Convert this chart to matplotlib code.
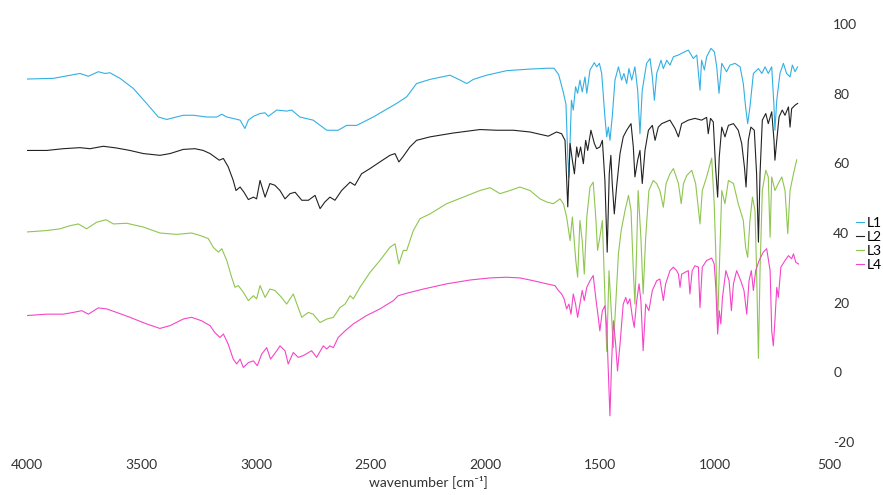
import matplotlib
matplotlib.use("Agg")
import matplotlib.pyplot as plt

# FTIR spectra, values (wavenumber in cm-1, %T)
L1_WN = [4000, 3885, 3769, 3732, 3689, 3660, 3638, 3594, 3536, 3478, 3427, 3390,
         3318, 3274, 3216, 3172, 3150, 3128, 3070, 3049, 3034, 3012, 2983, 2961,
         2947, 2910, 2867, 2845, 2809, 2751, 2692, 2642, 2605, 2561, 2489, 2387,
         2343, 2300, 2241, 2154, 2110, 2081, 2052, 1994, 1907, 1819, 1732, 1700,
         1680, 1660, 1648, 1640, 1635, 1624, 1616, 1606, 1597, 1587, 1577, 1565,
         1557, 1543, 1524, 1514, 1502, 1492, 1478, 1470, 1463, 1456, 1446, 1434,
         1419, 1405, 1395, 1383, 1373, 1361, 1347, 1335, 1325, 1315, 1296, 1281,
         1271, 1262, 1252, 1233, 1223, 1208, 1194, 1179, 1157, 1143, 1114, 1092,
         1077, 1063, 1056, 1044, 1034, 1015, 1000, 990, 980, 968, 947, 932, 910,
         888, 874, 864, 855, 845, 830, 808, 793, 779, 765, 750, 740, 736, 728,
         714, 699, 685, 670, 660, 648, 637]
L1_T = [84.2, 84.4, 85.8, 85.0, 86.3, 85.8, 86.0, 84.4, 81.5, 77.2, 73.3, 72.6,
        73.8, 73.8, 73.3, 73.3, 74.1, 73.3, 72.4, 70.0, 72.4, 73.5, 74.3, 74.5,
        73.5, 75.3, 75.0, 75.3, 73.3, 72.4, 69.5, 69.5, 70.9, 70.9, 73.3, 77.2,
        79.1, 82.9, 84.1, 85.3, 83.9, 82.9, 84.1, 85.3, 86.6, 87.0, 87.3, 87.3,
        85.5, 80.5, 77.0, 62.0, 56.0, 78.1, 75.3, 82.0, 80.1, 83.9, 80.5, 84.8,
        80.1, 86.8, 88.9, 87.7, 88.7, 85.8, 73.3, 67.6, 70.4, 66.6, 73.3, 83.9,
        87.7, 83.9, 85.8, 82.9, 87.2, 83.9, 87.7, 81.0, 68.5, 81.0, 88.7, 90.1,
        84.8, 78.1, 85.8, 89.6, 87.2, 89.6, 88.2, 90.6, 91.1, 91.6, 92.5, 90.1,
        91.1, 81.0, 89.6, 86.8, 90.6, 93.0, 92.0, 87.7, 80.1, 88.7, 86.3, 88.2, 88.7,
        87.7, 82.9, 76.2, 71.4, 76.2, 85.8, 87.2, 85.8, 87.7, 85.8, 87.7, 76.2, 69.5, 78.1,
        85.8, 88.7, 85.8, 84.8, 88.2, 86.3, 87.7]

L2_WN = [4000, 3914, 3842, 3769, 3725, 3667, 3609, 3551, 3492, 3420, 3376, 3318,
         3267, 3231, 3201, 3180, 3161, 3143, 3122, 3100, 3088, 3070, 3053, 3034,
         3012, 2998, 2983, 2961, 2940, 2918, 2896, 2874, 2852, 2830, 2801, 2772,
         2743, 2721, 2700, 2678, 2656, 2627, 2590, 2569, 2540, 2503, 2460, 2416,
         2394, 2377, 2358, 2329, 2300, 2241, 2140, 2023, 1950, 1878, 1805, 1725,
         1689, 1667, 1652, 1640, 1630, 1620, 1611, 1601, 1594, 1584, 1572, 1562,
         1553, 1539, 1524, 1514, 1500, 1489, 1478, 1468, 1459, 1452, 1446, 1437,
         1427, 1412, 1398, 1383, 1364, 1354, 1347, 1335, 1325, 1315, 1303, 1288,
         1271, 1259, 1245, 1230, 1194, 1172, 1157, 1143, 1114, 1085, 1056, 1034,
         1027, 1017, 1005, 995, 986, 979, 968, 954, 939, 917, 896, 881, 869, 862,
         852, 841, 826, 816, 808, 801, 791, 776, 765, 750, 740, 736, 728, 718,
         704, 692, 677, 670, 663, 648, 637]
L2_T = [63.7, 63.7, 64.2, 64.5, 64.2, 64.9, 64.4, 63.7, 62.8, 62.3, 62.8, 64.0,
        64.2, 63.7, 62.8, 61.8, 60.9, 61.4, 59.0, 55.1, 52.2, 53.2, 51.7, 49.6,
        50.3, 49.8, 55.1, 50.3, 54.2, 53.7, 52.2, 49.8, 51.3, 51.7, 49.4, 49.4,
        50.8, 47.0, 48.9, 50.3, 49.4, 52.2, 54.6, 53.7, 57.0, 58.5, 60.4, 62.3,
        62.8, 60.4, 62.0, 64.7, 66.6, 67.6, 68.7, 69.7, 69.5, 69.5, 69.0, 67.8,
        69.0, 68.5, 66.6, 47.5, 65.7, 60.9, 57.0, 64.7, 61.8, 64.7, 59.9, 66.6,
        63.7, 69.5, 65.7, 64.2, 64.7, 66.6, 55.1, 34.5, 57.0, 62.3, 54.2, 45.5,
        53.2, 62.8, 67.6, 69.5, 71.4, 64.7, 56.1, 60.9, 63.7, 54.2, 63.7, 69.5,
        70.9, 66.6, 70.4, 71.4, 72.4, 70.0, 67.6, 71.4, 72.4, 72.9, 72.4, 73.2,
        68.5, 72.9, 71.9, 58.9, 50.3, 61.8, 70.4, 67.6, 70.9, 71.4, 69.5, 65.7, 58.9, 53.2,
        66.6, 70.4, 69.5, 57.0, 37.4, 57.0, 72.4, 74.3, 71.4, 74.8, 66.6, 60.9, 66.6, 73.3,
        75.3, 73.8, 76.2, 70.4, 75.7, 76.7, 77.2]

L3_WN = [4000, 3914, 3856, 3812, 3776, 3740, 3696, 3655, 3623, 3565, 3492, 3420,
         3347, 3282, 3245, 3209, 3187, 3165, 3150, 3128, 3107, 3092, 3078, 3056,
         3034, 3012, 2998, 2983, 2961, 2940, 2918, 2889, 2867, 2838, 2801, 2772,
         2751, 2721, 2692, 2663, 2634, 2612, 2590, 2576, 2547, 2503, 2460, 2416,
         2394, 2377, 2358, 2343, 2314, 2285, 2241, 2169, 2096, 2023, 1979, 1936,
         1892, 1849, 1805, 1761, 1732, 1703, 1674, 1659, 1645, 1630, 1620, 1605,
         1597, 1587, 1577, 1568, 1557, 1543, 1529, 1518, 1510, 1500, 1489, 1478,
         1470, 1460, 1452, 1441, 1431, 1419, 1407, 1390, 1375, 1364, 1354, 1347,
         1340, 1333, 1321, 1311, 1300, 1286, 1267, 1252, 1238, 1223, 1211, 1194,
         1179, 1157, 1145, 1135, 1121, 1099, 1082, 1074, 1063, 1053, 1034, 1012,
         1001, 994, 986, 968, 954, 939, 917, 896, 874, 864, 855, 845, 834, 823,
         816, 808, 801, 791, 776, 765, 757, 750, 736, 721, 706, 692, 680, 670,
         655, 641]
L3_T = [40.3, 40.7, 41.2, 42.1, 42.6, 41.2, 43.1, 43.8, 42.6, 42.8, 41.7, 40.0,
        39.6, 40.0, 39.3, 38.4, 35.9, 34.5, 35.5, 32.1, 27.3, 24.4, 24.9, 23.0,
        20.6, 22.0, 21.1, 24.9, 21.5, 23.9, 23.5, 21.5, 19.6, 22.5, 15.8, 17.2,
        16.7, 14.3, 15.3, 15.8, 18.6, 19.6, 22.0, 21.1, 24.4, 28.7, 32.1, 35.9,
        36.9, 31.1, 35.0, 35.0, 40.7, 44.1, 45.5, 48.4, 50.3, 52.2, 53.0, 51.3,
        52.2, 53.2, 52.2, 49.8, 48.9, 48.4, 49.8, 48.4, 44.6, 37.8, 44.6, 32.1,
        27.3, 43.6, 37.8, 28.2, 44.6, 53.2, 54.6, 44.6, 35.0, 38.8, 43.6, 21.5,
        6.0, 29.2, 19.6, 7.1, 19.6, 34.0, 40.7, 46.5, 50.8, 46.5, 29.2, 19.6,
        34.0, 52.2, 38.8, 22.5, 38.8, 52.2, 55.1, 54.2, 52.2, 47.4, 54.2, 57.0,
        58.5, 54.2, 48.4, 54.2, 56.5, 58.0, 54.2, 49.4, 42.6, 52.2, 56.1, 61.5,
        48.4, 34.0, 14.0, 52.2, 48.4, 55.1, 54.2, 48.4, 43.6, 35.9, 33.0, 43.6, 50.3, 46.5,
        29.2, 4.0, 29.2, 52.2, 58.0, 56.1, 38.8, 56.1, 52.2, 54.2, 56.1, 52.2, 39.8, 52.2,
        57.0, 61.0]

L4_WN = [4000, 3914, 3842, 3798, 3761, 3732, 3689, 3652, 3609, 3551, 3478, 3420,
         3376, 3318, 3282, 3238, 3201, 3180, 3158, 3143, 3122, 3100, 3085, 3070,
         3056, 3034, 3012, 2995, 2976, 2954, 2937, 2910, 2896, 2874, 2860, 2838,
         2816, 2794, 2758, 2736, 2707, 2692, 2678, 2663, 2642, 2612, 2576, 2518,
         2460, 2401, 2380, 2343, 2271, 2169, 2067, 1979, 1907, 1849, 1790, 1732,
         1696, 1681, 1667, 1656, 1645, 1635, 1626, 1616, 1606, 1597, 1587, 1577,
         1568, 1557, 1543, 1529, 1518, 1507, 1500, 1489, 1478, 1470, 1463, 1456,
         1449, 1441, 1431, 1423, 1412, 1398, 1387, 1379, 1369, 1358, 1350, 1340,
         1329, 1321, 1311, 1300, 1286, 1271, 1252, 1238, 1223, 1213, 1194, 1179,
         1165, 1157, 1150, 1143, 1128, 1114, 1107, 1097, 1085, 1070, 1063, 1053,
         1034, 1012, 1001, 994, 986, 979, 972, 965, 950, 936, 926, 917, 903, 885,
         871, 859, 849, 839, 830, 820, 805, 787, 772, 757, 750, 743, 736, 728,
         721, 710, 692, 677, 663, 655, 645, 633]
L4_T = [16.3, 16.7, 16.7, 17.2, 17.7, 16.7, 18.5, 18.2, 17.2, 15.8, 13.9, 12.6,
        13.4, 15.3, 15.8, 14.8, 13.4, 11.4, 10.0, 11.0, 8.1, 3.8, 2.4, 3.8,
        1.4, 2.8, 3.3, 1.9, 5.2, 7.1, 3.8, 6.2, 7.6, 6.2, 2.4, 5.7,
        4.3, 4.8, 6.2, 4.3, 7.6, 6.7, 7.6, 7.1, 10.0, 11.9, 13.9, 16.3,
        18.2, 20.6, 22.0, 22.7, 23.9, 25.4, 26.5, 27.1, 27.3, 27.1, 26.3, 25.4,
        24.9, 23.5, 22.5, 21.1, 18.2, 19.6, 16.7, 22.5, 19.6, 15.8, 19.6, 23.5,
        20.6, 24.4, 26.3, 27.8, 21.5, 15.8, 11.9, 17.7, 19.1, 12.9, 0.4, -12.5,
        2.4, 14.8, 8.1, 0.4, 8.1, 19.6, 21.5, 19.6, 21.1, 15.8, 12.9, 20.1,
        25.4, 20.6, 6.2, 19.6, 17.7, 23.5, 26.3, 26.8, 20.6, 25.4, 29.2, 30.2,
        29.2, 28.2, 24.4, 28.2, 28.7, 29.2, 22.5, 29.2, 30.6, 30.2, 18.6, 30.2,
        32.1, 32.8, 31.1, 24.4, 11.0, 17.7, 13.9, 21.5, 29.2, 26.3, 17.7, 25.4, 29.2, 26.3,
        23.5, 16.7, 26.3, 29.2, 23.5, 29.2, 32.1, 34.5, 35.5, 29.2, 12.0, 7.6, 14.8, 24.4,
        21.5, 30.2, 32.1, 33.5, 32.6, 34.0, 31.6, 31.1]

LABELS = ["L1", "L2", "L3", "L4"]
COLORS = ["#33b0e3", "#222222", "#8fc650", "#f545c8"]

plt.rcParams["font.family"] = ["Lato", "DejaVu Sans"]
plt.rcParams["axes.unicode_minus"] = False

fig = plt.figure(figsize=(8.83, 4.95), dpi=100)
ax = fig.add_axes([27 / 883, 1 - 442 / 495, 802 / 883, 418 / 495])

series = [(L1_WN, L1_T), (L2_WN, L2_T), (L3_WN, L3_T), (L4_WN, L4_T)]
for (wn, t), lab, col in zip(series, LABELS, COLORS):
    ax.plot(wn, t, color=col, lw=0.8, label=lab)

ax.set_xlim(4000, 500)
ax.set_ylim(-20, 100)
ax.set_xticks(range(4000, 499, -500))
ax.set_yticks(range(-20, 101, 20))
ax.yaxis.tick_right()
ax.tick_params(axis="x", length=0, pad=12, labelsize=10, labelcolor="#333333")
ax.tick_params(axis="y", length=0, pad=3, labelsize=10, labelcolor="#333333")
for s in ax.spines.values():
    s.set_visible(False)
ax.set_xlabel("wavenumber [cm⁻¹]", fontsize=10, color="#333333", labelpad=3)

fig.legend(loc="upper left", bbox_to_anchor=(849 / 883, 1 - 210 / 495),
           frameon=False, fontsize=10, handlelength=0.6, handletextpad=0.15,
           labelspacing=0.15, borderpad=0)

fig.savefig("out.png", dpi=100)
